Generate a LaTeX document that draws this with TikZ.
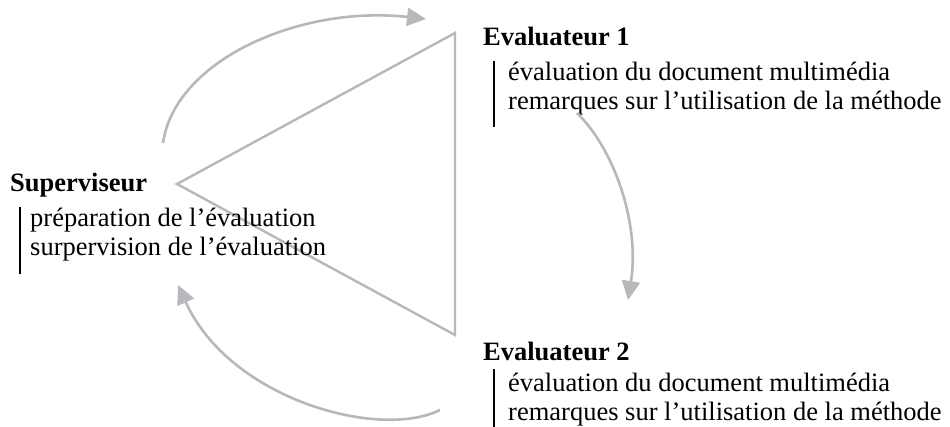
\documentclass[tikz,border=0pt]{standalone}
\usepackage{fontspec}
\setmainfont{Liberation Serif}
\usetikzlibrary{arrows.meta}
\definecolor{arrowgray}{RGB}{183,183,188}
\tikzset{
  txt/.style={anchor=base west, inner sep=0pt, font=\fontsize{26.5}{29}\selectfont},
  head/.style={txt, font=\fontsize{26.5}{29}\selectfont\bfseries},
  bar/.style={line width=2.4pt, black},
  tri/.style={arrowgray, line width=2.4pt, line join=miter},
  flow/.style={arrowgray, line width=2.6pt, -{Triangle[length=19pt,width=18pt]}}
}
\begin{document}
\begin{tikzpicture}[x=1pt,y=-1pt]
\useasboundingbox (0,0) rectangle (950,427);
% triangle
\draw[tri] (455,33) -- (177,184) -- (455,335) -- cycle;
% Superviseur
\node[head] (sup) at (10,192) {Superviseur};
\node[txt] (sup1) at (30,227) {préparation de l’évaluation};
\node[txt] (sup2) at (30,256) {surpervision de l’évaluation};
\draw[bar] (20,207) -- (20,274);
% Evaluateur 1
\node[head] (ev1) at (483,46) {Evaluateur 1};
\node[txt] (ev1a) at (508,81) {évaluation du document multimédia};
\node[txt] (ev1b) at (508,110) {remarques sur l’utilisation de la méthode};
\draw[bar] (494,61) -- (494,127);
% Evaluateur 2
\node[head] (ev2) at (483,360) {Evaluateur 2};
\node[txt] (ev2a) at (508,391) {évaluation du document multimédia};
\node[txt] (ev2b) at (508,420) {remarques sur l’utilisation de la méthode};
\draw[bar] (494,369) -- (494,427);
% arrows
\coordinate (a1s) at (163,143);
\coordinate (a1e) at (426,19);
\coordinate (a2s) at (577,113);
\coordinate (a2e) at (628,300);
\coordinate (a3s) at (440,410);
\coordinate (a3e) at (178,285);
\draw[flow] (a1s) .. controls (175,60) and (300,5) .. (a1e);
\draw[flow] (a2s) .. controls (615,150) and (640,225) .. (a2e);
\draw[flow] (a3s) .. controls (380,440) and (230,400) .. (a3e);
\end{tikzpicture}
\end{document}
